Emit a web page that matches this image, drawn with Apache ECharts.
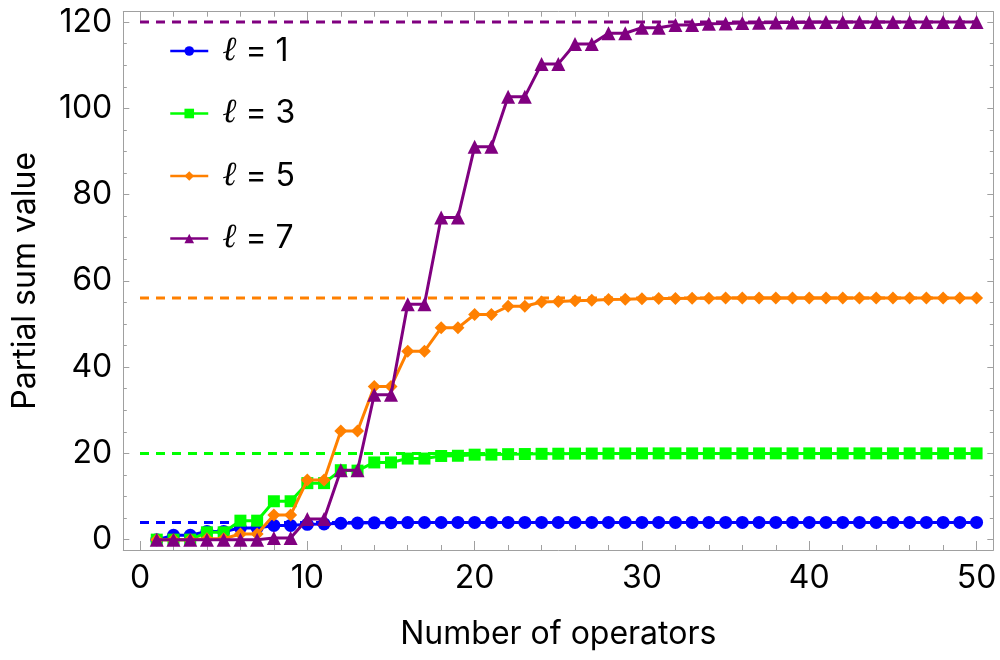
<!doctype html>
<html>
<head>
<meta charset="utf-8">
<title>Partial sum value</title>
<script src="https://cdn.jsdelivr.net/npm/echarts@6/dist/echarts.min.js"></script>
<style>
  html, body { margin: 0; height: 100%; background: #fff; }
  #chart { width: 1000px; height: 660px; }
</style>
</head>
<body>
<div id="chart"></div>
<script>
// number of operators
const n = [1, 2, 3, 4, 5, 6, 7, 8, 9, 10,
           11, 12, 13, 14, 15, 16, 17, 18, 19, 20,
           21, 22, 23, 24, 25, 26, 27, 28, 29, 30,
           31, 32, 33, 34, 35, 36, 37, 38, 39, 40,
           41, 42, 43, 44, 45, 46, 47, 48, 49, 50]

// partial sums
const l1 = [0, 1, 1, 1.9, 1.9, 2.7, 2.7, 3.3, 3.3, 3.55,
            3.65, 3.8, 3.85, 3.9, 3.93, 3.96, 3.97, 3.98, 3.99, 4,
            4, 4, 4, 4, 4, 4, 4, 4, 4, 4,
            4, 4, 4, 4, 4, 4, 4, 4, 4, 4,
            4, 4, 4, 4, 4, 4, 4, 4, 4, 4]
const l3 = [0, 0, 0, 1.7, 1.7, 4.4, 4.4, 8.9, 8.9, 13.1,
            13.1, 16.1, 16.0, 17.9, 17.9, 18.8, 18.8, 19.4, 19.45, 19.7,
            19.72, 19.82, 19.85, 19.9, 19.92, 19.95, 19.96, 19.97, 19.98, 20,
            20, 20, 20, 20, 20, 20, 20, 20, 20, 20,
            20, 20, 20, 20, 20, 20, 20, 20, 20, 20]
const l5 = [0, 0, 0, 0.2, 0.2, 1.3, 1.3, 5.7, 5.7, 13.8,
            13.8, 25.2, 25.2, 35.5, 35.5, 43.7, 43.7, 49.1, 49.1, 52.2,
            52.2, 54.1, 54.1, 55.1, 55.2, 55.4, 55.5, 55.7, 55.75, 55.85,
            55.88, 55.93, 55.95, 55.97, 56, 56, 56, 56, 56, 56,
            56, 56, 56, 56, 56, 56, 56, 56, 56, 56]
const l7 = [0, 0, 0, 0, 0, 0, 0, 0.4, 0.4, 4.8,
            4.8, 16.1, 16.1, 33.6, 33.6, 54.6, 54.6, 74.7, 74.7, 91.1,
            91.1, 102.7, 102.7, 110.3, 110.3, 114.9, 114.9, 117.4, 117.4, 118.7,
            118.7, 119.3, 119.3, 119.6, 119.65, 119.8, 119.82, 119.9, 119.9, 119.95,
            120, 120, 120, 120, 120, 120, 120, 120, 120, 120]

// limiting values (dashed lines)
const limits = [4, 20, 56, 120]
const names = ['ℓ = 1', 'ℓ = 3', 'ℓ = 5', 'ℓ = 7']
const values = [l1, l3, l5, l7]
const colors = ['#0000ff', '#00ff00', '#ff8000', '#800080']
const symbols = ['circle', 'rect', 'diamond', 'triangle']
const sizes = [13, 12, 13, 14]

const font = 'Inter, "Liberation Sans", sans-serif'
const frame = '#a0a0a0'

function xAxisDef(pos, labels) {
    return {
        type: 'value', position: pos, min: -1, max: 51,
        axisLine: { show: true, onZero: false, lineStyle: { color: frame, width: 1 } },
        axisTick: { show: true, inside: true, length: 9, lineStyle: { color: frame } },
        minorTick: { show: true, splitNumber: 5, length: 5, lineStyle: { color: frame } },
        splitLine: { show: false },
        axisLabel: { show: labels, margin: 12, fontSize: 32, color: '#000', fontFamily: font,
                     showMinLabel: false, showMaxLabel: false }
    }
}
function yAxisDef(pos, labels) {
    return {
        type: 'value', position: pos, min: -2.4, max: 122.4,
        axisLine: { show: true, onZero: false, lineStyle: { color: frame, width: 1 } },
        axisTick: { show: true, inside: true, length: 6, lineStyle: { color: frame } },
        minorTick: { show: true, splitNumber: 4, length: 3.5, lineStyle: { color: frame } },
        splitLine: { show: false },
        axisLabel: { show: labels, margin: 11, fontSize: 32, color: '#000', fontFamily: font,
                     showMinLabel: false, showMaxLabel: false }
    }
}

const xBottom = xAxisDef('bottom', true)
xBottom.name = 'Number of operators'
xBottom.nameLocation = 'middle'
xBottom.nameGap = 68
xBottom.nameTextStyle = { fontSize: 32, color: '#000', fontFamily: font }
const yLeft = yAxisDef('left', true)
yLeft.name = 'Partial sum value'
yLeft.nameLocation = 'middle'
yLeft.nameGap = 82
yLeft.nameTextStyle = { fontSize: 32, color: '#000', fontFamily: font }

const series = []
limits.forEach((lim, i) => {
    series.push({
        name: 'limit ' + i, type: 'line', silent: true, symbol: 'none', z: 1,
        data: [[0, lim], [50, lim]],
        lineStyle: { color: colors[i], width: 3, type: [9, 7] }
    })
})
values.forEach((v, i) => {
    series.push({
        name: names[i], type: 'line', z: 2 + i,
        data: n.map((x, k) => [x, v[k]]),
        symbol: symbols[i], symbolSize: sizes[i],
        lineStyle: { color: colors[i], width: 3 },
        itemStyle: { color: colors[i] }
    })
})

const chart = echarts.init(document.getElementById('chart'))
chart.setOption({
    animation: false,
    grid: { left: 123.3, right: 6.7, top: 11.7, bottom: 110 },
    xAxis: [xBottom, xAxisDef('top', false)],
    yAxis: [yLeft, yAxisDef('right', false)],
    legend: {
        data: names, orient: 'vertical', left: 164, top: 29,
        itemWidth: 38, itemHeight: 12, itemGap: 28.5,
        lineStyle: { width: 2.5 },
        formatter: name => '{i|ℓ}' + name.slice(1),
        textStyle: {
            fontSize: 32, color: '#000', fontFamily: font, padding: [0, 0, 0, 9],
            rich: { i: { fontSize: 34, fontStyle: 'italic', fontFamily: '"DejaVu Serif", serif', color: '#000' } }
        }
    },
    series: series
})
</script>
</body>
</html>
